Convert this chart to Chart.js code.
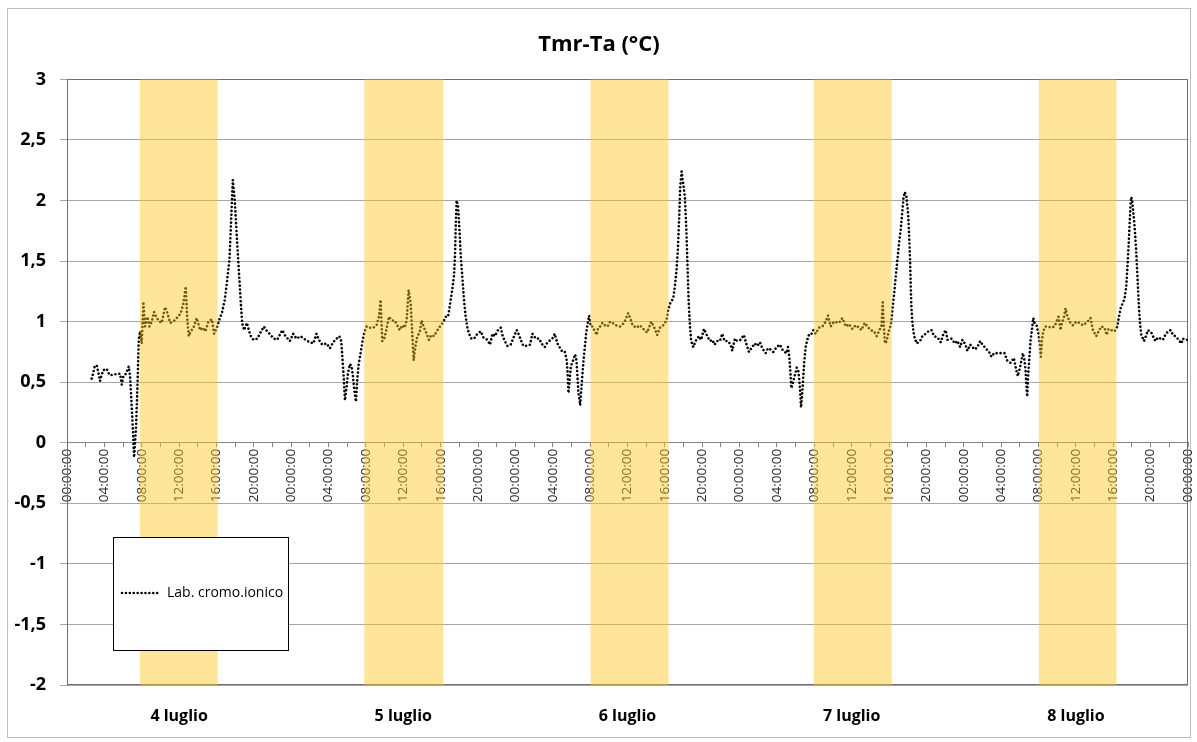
<!DOCTYPE html>
<html>
<head>
<meta charset="utf-8">
<script src="https://cdn.jsdelivr.net/npm/chart.js@4.4.1/dist/chart.umd.min.js"></script>
<style>
  html, body { margin: 0; padding: 0; background: #fff; }
  #wrap { width: 1197px; height: 742px; }
</style>
</head>
<body>
<div id="wrap"><canvas id="c" width="1197" height="742"></canvas></div>
<script>
// Hours since 4 luglio 00:00, value Tmr-Ta (°C)
const day1Readings = [[2.64,0.53],[2.82,0.58],[2.96,0.63],[3.18,0.64],[3.32,0.59],[3.54,0.51],[3.68,0.55],[3.89,0.60],[4.25,0.61],[4.54,0.56],[4.89,0.56],[5.39,0.57],[5.68,0.57],[5.86,0.48],[6.04,0.55],[6.32,0.57],[6.61,0.63],[6.75,0.55],[6.89,0.35],[7.04,0.13],[7.18,-0.12],[7.39,0.13],[7.54,0.46],[7.68,0.85],[7.82,0.92],[8.0,0.82],[8.18,1.15],[8.36,0.96],[8.61,1.04],[8.82,0.96],[9.07,1.00],[9.32,1.08],[9.54,1.04],[9.79,1.01],[10.14,0.99],[10.5,1.12],[10.75,1.07],[11.04,0.99],[11.39,1.00],[11.75,1.03],[12.18,1.07],[12.46,1.15],[12.71,1.29],[12.86,1.04],[13.04,0.88],[13.25,0.92],[13.54,0.95],[13.89,1.03],[14.25,0.93],[14.54,0.95],[14.82,0.92],[15.14,1.00],[15.5,1.02],[15.75,0.90],[16.04,0.95],[16.32,1.02],[16.61,1.08],[16.89,1.18],[17.11,1.32],[17.39,1.51],[17.57,1.84],[17.75,2.17],[17.96,2.00],[18.18,1.70],[18.39,1.43],[18.61,1.15],[18.75,0.99],[18.96,0.93],[19.25,0.99],[19.61,0.89],[19.96,0.85],[20.39,0.86],[20.64,0.90],[21.07,0.96],[21.43,0.92],[21.79,0.89],[22.14,0.86],[22.5,0.85],[23.04,0.93],[23.39,0.88],[23.86,0.84]];
const day2Readings = [[24.21,0.90],[24.57,0.86],[25.0,0.88],[25.54,0.85],[26.0,0.83],[26.36,0.82],[26.71,0.90],[26.96,0.85],[27.32,0.81],[27.79,0.82],[28.14,0.78],[28.5,0.83],[28.86,0.86],[29.14,0.88],[29.36,0.84],[29.5,0.68],[29.64,0.52],[29.75,0.35],[29.93,0.46],[30.07,0.57],[30.29,0.65],[30.46,0.63],[30.61,0.55],[30.79,0.41],[30.93,0.34],[31.07,0.52],[31.21,0.64],[31.43,0.74],[31.64,0.84],[31.86,0.92],[32.07,0.96],[32.32,0.95],[32.79,0.95],[33.14,0.97],[33.39,1.04],[33.57,1.18],[33.75,0.84],[33.93,0.85],[34.18,0.93],[34.46,1.04],[34.82,1.01],[35.07,1.01],[35.36,0.97],[35.61,0.93],[35.89,0.97],[36.14,0.95],[36.36,1.01],[36.57,1.26],[36.79,1.15],[36.96,0.90],[37.11,0.68],[37.29,0.79],[37.5,0.88],[37.75,0.91],[37.96,1.01],[38.21,0.95],[38.5,0.90],[38.75,0.85],[39.0,0.89],[39.29,0.88],[39.57,0.92],[39.93,0.96],[40.29,1.00],[40.54,1.04],[40.79,1.04],[41.0,1.14],[41.25,1.27],[41.43,1.38],[41.54,1.56],[41.61,1.78],[41.71,2.00],[41.86,1.95],[42.0,1.78],[42.14,1.56],[42.32,1.37],[42.5,1.18],[42.68,1.04],[42.86,0.95],[43.04,0.90],[43.29,0.86],[43.57,0.86],[43.93,0.90],[44.29,0.92],[44.57,0.87],[45.0,0.85],[45.29,0.81],[45.54,0.90],[45.79,0.88],[46.14,0.93],[46.43,0.95],[46.61,0.89],[46.86,0.84],[47.14,0.80],[47.5,0.81],[47.86,0.88]];
const day3Readings = [[48.14,0.93],[48.39,0.89],[48.57,0.85],[48.86,0.80],[49.29,0.80],[49.57,0.81],[49.82,0.90],[50.18,0.86],[50.54,0.86],[50.89,0.81],[51.14,0.79],[51.36,0.82],[51.61,0.84],[51.96,0.86],[52.21,0.90],[52.5,0.82],[52.79,0.78],[53.04,0.75],[53.29,0.75],[53.5,0.68],[53.61,0.55],[53.68,0.41],[53.93,0.63],[54.18,0.68],[54.39,0.73],[54.54,0.68],[54.64,0.55],[54.75,0.41],[54.93,0.31],[55.07,0.46],[55.29,0.68],[55.43,0.79],[55.57,0.90],[55.71,0.97],[55.89,1.05],[56.07,0.96],[56.25,0.96],[56.5,0.92],[56.71,0.89],[56.86,0.95],[57.07,0.96],[57.32,0.99],[57.57,0.97],[57.86,0.96],[58.14,1.00],[58.39,0.99],[58.75,0.97],[59.21,0.96],[59.64,0.99],[60.07,1.07],[60.29,1.03],[60.54,0.97],[60.96,0.95],[61.32,0.97],[61.68,0.94],[62.11,0.91],[62.54,1.00],[62.82,0.96],[63.18,0.89],[63.46,0.95],[63.82,0.97],[64.18,1.01],[64.36,1.10],[64.61,1.16],[64.89,1.19],[65.07,1.29],[65.25,1.43],[65.39,1.59],[65.54,1.87],[65.64,2.11],[65.79,2.24],[65.96,2.14],[66.14,2.03],[66.29,1.78],[66.43,1.45],[66.54,1.18],[66.68,0.97],[66.82,0.84],[67.04,0.79],[67.29,0.84],[67.64,0.88],[67.89,0.85],[68.18,0.94],[68.54,0.88],[68.82,0.84],[69.07,0.85],[69.32,0.81],[69.61,0.84],[69.89,0.84],[70.14,0.90],[70.39,0.84],[70.75,0.84],[71.04,0.81],[71.21,0.76],[71.5,0.86],[71.75,0.84]];
const day4Readings = [[72.11,0.85],[72.46,0.89],[72.75,0.81],[73.0,0.75],[73.25,0.78],[73.61,0.82],[73.89,0.80],[74.18,0.83],[74.43,0.78],[74.79,0.74],[75.04,0.78],[75.32,0.77],[75.61,0.75],[75.96,0.79],[76.32,0.81],[76.57,0.77],[76.82,0.75],[77.04,0.74],[77.18,0.79],[77.32,0.71],[77.43,0.59],[77.54,0.45],[77.68,0.49],[77.82,0.53],[77.96,0.57],[78.11,0.62],[78.29,0.59],[78.39,0.52],[78.5,0.41],[78.57,0.29],[78.71,0.41],[78.82,0.55],[78.93,0.68],[79.07,0.79],[79.25,0.85],[79.46,0.90],[79.71,0.90],[79.89,0.93],[80.14,0.90],[80.5,0.95],[80.86,0.96],[81.21,1.00],[81.46,1.05],[81.75,0.96],[82.11,1.00],[82.64,0.99],[83.0,1.03],[83.36,0.96],[83.71,0.98],[84.07,0.94],[84.43,0.97],[84.79,0.95],[85.04,0.93],[85.39,0.99],[85.68,0.96],[86.04,0.93],[86.39,0.92],[86.68,0.88],[86.96,0.93],[87.18,0.96],[87.32,1.16],[87.43,0.97],[87.57,0.82],[87.75,0.84],[87.96,0.92],[88.18,0.97],[88.36,1.10],[88.54,1.23],[88.71,1.37],[88.89,1.51],[89.07,1.65],[89.25,1.76],[89.43,1.92],[89.54,2.02],[89.68,2.07],[89.86,2.03],[90.04,1.89],[90.14,1.73],[90.25,1.51],[90.32,1.29],[90.39,1.12],[90.5,0.99],[90.68,0.88],[90.96,0.82],[91.32,0.84],[91.57,0.88],[91.93,0.90],[92.21,0.92],[92.54,0.93],[92.82,0.88],[93.18,0.87],[93.54,0.83],[93.82,0.90],[94.07,0.93],[94.25,0.85],[94.68,0.86],[95.04,0.82],[95.32,0.84],[95.61,0.79],[95.86,0.85]];
const day5Readings = [[96.11,0.82],[96.39,0.76],[96.68,0.81],[96.93,0.79],[97.18,0.77],[97.46,0.79],[97.75,0.84],[98.0,0.81],[98.36,0.78],[98.71,0.75],[98.96,0.71],[99.25,0.74],[99.61,0.74],[99.96,0.74],[100.36,0.74],[100.64,0.68],[101.0,0.66],[101.36,0.70],[101.61,0.60],[101.79,0.55],[102.07,0.64],[102.32,0.74],[102.5,0.68],[102.61,0.60],[102.71,0.46],[102.79,0.38],[102.86,0.52],[103.0,0.68],[103.14,0.84],[103.29,0.93],[103.43,1.03],[103.57,0.99],[103.79,0.97],[104.0,0.90],[104.14,0.81],[104.25,0.71],[104.36,0.84],[104.5,0.92],[104.75,0.96],[105.0,0.96],[105.36,0.95],[105.71,0.96],[105.93,1.00],[106.14,1.04],[106.36,0.93],[106.5,0.99],[106.71,1.03],[106.89,1.11],[107.07,1.05],[107.32,1.00],[107.68,0.97],[108.04,1.00],[108.39,0.99],[108.75,0.97],[109.11,0.99],[109.57,1.03],[109.82,0.93],[110.18,0.88],[110.43,0.92],[110.71,0.96],[111.07,0.95],[111.29,0.89],[111.5,0.94],[111.79,0.93],[112.14,0.92],[112.43,0.96],[112.61,1.04],[112.79,1.11],[113.0,1.15],[113.21,1.19],[113.39,1.29],[113.5,1.43],[113.64,1.62],[113.75,1.81],[113.86,1.98],[113.93,2.03],[114.04,1.99],[114.18,1.88],[114.29,1.78],[114.43,1.62],[114.54,1.45],[114.64,1.29],[114.75,1.12],[114.86,0.99],[115.0,0.89],[115.29,0.84],[115.54,0.89],[115.71,0.93],[116.07,0.91],[116.5,0.84],[116.79,0.87],[117.07,0.86],[117.32,0.85],[117.57,0.89],[117.86,0.92],[118.14,0.93],[118.39,0.89],[118.64,0.88],[119.0,0.85],[119.29,0.82],[119.46,0.86],[119.71,0.85],[120.0,0.85]];

const seriesName = 'Lab. cromo.ionico';
const titleText = 'Tmr-Ta (°C)';
const hourTickLabels = ['00:00:00','04:00:00','08:00:00','12:00:00','16:00:00','20:00:00'];
const dayLabels = ['4 luglio','5 luglio','6 luglio','7 luglio','8 luglio'];
const dayLabelHours = [12, 36, 60, 84, 108];
// shaded working hours (hours since start)
const bandStarts = [7.82, 31.82, 56.04, 79.93, 104.04];
const bandEnds   = [16.13, 40.29, 64.40, 88.29, 112.35];

const allReadings = [].concat(day1Readings, day2Readings, day3Readings, day4Readings, day5Readings);
const points = allReadings.map(r => ({x: r[0], y: r[1]}));

const FONT = "'Open Sans', 'DejaVu Sans', sans-serif";
const DOT_DASH = [0.01, 3.9];
const DOT_WIDTH = 2.6;

const decor = {
  id: 'decor',
  beforeDraw(chart) {
    const c = chart.ctx;
    c.save();
    c.fillStyle = '#ffffff';
    c.fillRect(0, 0, chart.width, chart.height);
    c.strokeStyle = '#bfbfbf';
    c.lineWidth = 1;
    c.strokeRect(7.5, 8.5, 1183, 729);
    c.restore();
  },
  beforeDatasetsDraw(chart) {
    const c = chart.ctx, a = chart.chartArea;
    c.save();
    c.strokeStyle = '#6f6f6f';
    c.lineWidth = 1;
    const l = Math.round(a.left) + 0.5, t = Math.round(a.top) + 0.5;
    const r = Math.round(a.right) - 0.5, b = Math.round(a.bottom) - 0.5;
    c.strokeRect(l, t, r - l, b - t);
    c.restore();
  },
  afterDatasetsDraw(chart) {
    const c = chart.ctx, a = chart.chartArea, xs = chart.scales.x;
    c.save();
    c.fillStyle = 'rgba(255,197,28,0.45)';
    bandStarts.forEach((s, i) => {
      const x0 = xs.getPixelForValue(s), x1 = xs.getPixelForValue(bandEnds[i]);
      c.fillRect(x0, a.top, x1 - x0, a.bottom - a.top);
    });
    c.restore();
  },
  afterDraw(chart) {
    const c = chart.ctx;
    c.save();
    // legend box
    c.fillStyle = '#ffffff';
    c.fillRect(113.5, 537.5, 175, 113);
    c.strokeStyle = '#000000';
    c.lineWidth = 1;
    c.strokeRect(113.5, 537.5, 175, 113);
    c.beginPath();
    c.setLineDash(DOT_DASH);
    c.lineCap = 'round';
    c.lineWidth = DOT_WIDTH;
    c.moveTo(122, 593);
    c.lineTo(161, 593);
    c.stroke();
    c.setLineDash([]);
    c.fillStyle = '#000000';
    c.font = "14px " + FONT;
    c.textBaseline = 'middle';
    c.textAlign = 'left';
    c.fillText(seriesName, 167, 593);
    c.restore();
  }
};

new Chart(document.getElementById('c'), {
  type: 'line',
  data: {
    datasets: [{
      label: seriesName,
      data: points,
      xAxisID: 'x',
      yAxisID: 'y',
      borderColor: '#000000',
      borderWidth: DOT_WIDTH,
      borderDash: DOT_DASH,
      borderCapStyle: 'round',
      borderJoinStyle: 'round',
      pointRadius: 0,
      tension: 0,
      fill: false
    }]
  },
  options: {
    responsive: false,
    animation: false,
    events: [],
    layout: { padding: { left: 10, right: 9, top: 0, bottom: 0 } },
    plugins: {
      legend: { display: false },
      tooltip: { enabled: false },
      title: {
        display: true,
        text: titleText,
        color: '#000000',
        font: { family: FONT, size: 22, weight: 'bold', lineHeight: 1.2 },
        padding: { top: 32, bottom: 21 }
      }
    },
    scales: {
      x: {
        type: 'linear',
        min: 0, max: 120,
        position: { y: 0 },
        afterFit(s) { s.paddingLeft = 0; s.paddingRight = 0; },
        ticks: {
          stepSize: 2,
          autoSkip: false,
          minRotation: 90, maxRotation: 90,
          padding: 2,
          color: '#1e1e1e',
          font: { family: FONT, size: 13.5 },
          callback: v => (v % 4 === 0) ? hourTickLabels[(v % 24) / 4] : ''
        },
        grid: { drawOnChartArea: false, drawTicks: true, tickLength: 4, color: '#868686' },
        border: { color: '#868686', width: 1 }
      },
      xDays: {
        type: 'linear',
        axis: 'x',
        min: 0, max: 120,
        position: 'bottom',
        afterBuildTicks(s) { s.ticks = dayLabelHours.map(v => ({ value: v })); },
        afterFit(s) { s.height = 57; s.paddingLeft = 0; s.paddingRight = 0; },
        ticks: {
          autoSkip: false,
          maxRotation: 0, minRotation: 0,
          padding: 22,
          color: '#000000',
          font: { family: FONT, size: 16, weight: 'bold' },
          callback: (v, i) => dayLabels[i]
        },
        grid: { display: false, drawTicks: false },
        border: { display: false }
      },
      y: {
        type: 'linear',
        min: -2, max: 3,
        position: 'left',
        afterFit(s) { s.width = 57; },
        ticks: {
          stepSize: 0.5,
          padding: 14,
          color: '#000000',
          font: { family: FONT, size: 18, weight: 'bold' },
          callback: v => String(v).replace('.', ',')
        },
        grid: { color: '#a6a6a6', tickLength: 7, lineWidth: 1 },
        border: { color: '#868686', width: 1 }
      }
    }
  },
  plugins: [decor]
});
</script>
</body>
</html>
